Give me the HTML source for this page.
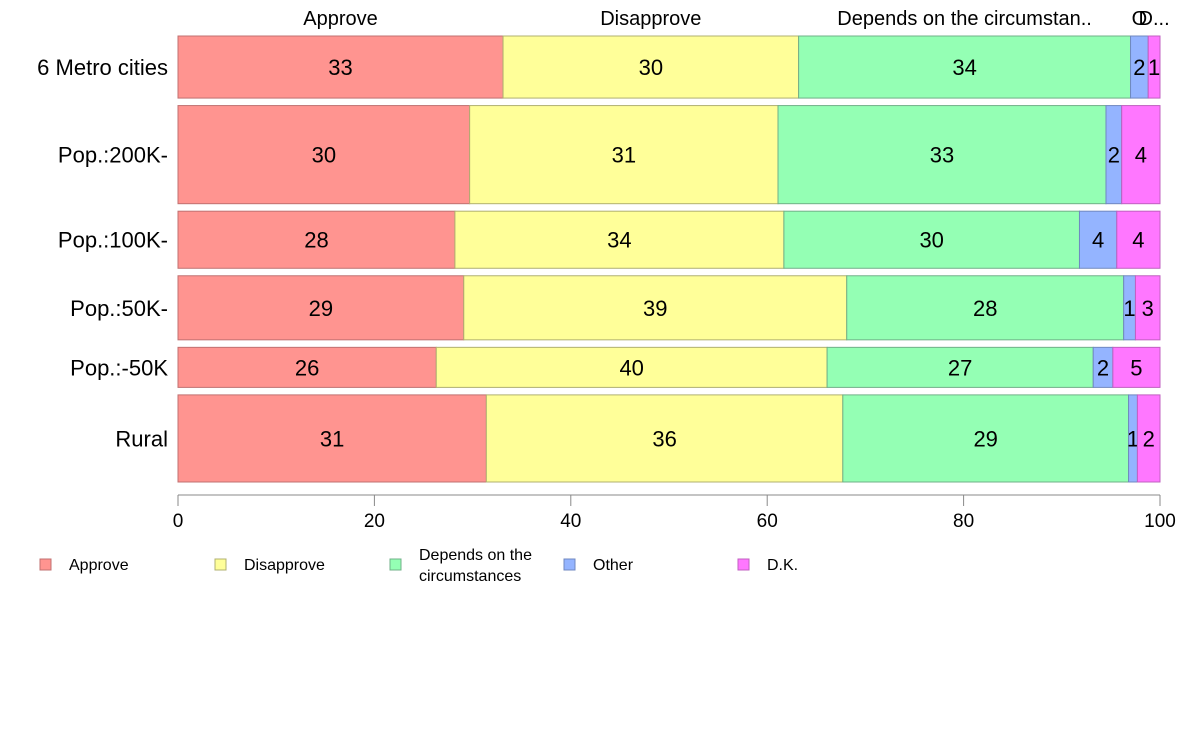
<!DOCTYPE html>
<html><head><meta charset="utf-8"><style>
body{margin:0;background:#fff;}
svg{display:block;font-family:"Liberation Sans",Arial,sans-serif;}
</style></head><body>
<svg id="chart" width="1188" height="736" viewBox="0 0 1188 736"></svg>
<script>
const categories = ["6 Metro cities","Pop.:200K-","Pop.:100K-","Pop.:50K-","Pop.:-50K","Rural"];
const seriesNames = ["Approve","Disapprove","Depends on the circumstances","Other","D.K."];
const approve    = [33.1,29.7,28.2,29.1,26.3,31.4];
const disapprove = [30.1,31.4,33.5,39.0,39.8,36.3];
const depends    = [33.8,33.4,30.1,28.2,27.1,29.1];
const other      = [1.8,1.6,3.8,1.2,2.0,0.9];
const dk         = [1.2,3.9,4.4,2.5,4.8,2.3];
const rowWeights = [62,98,57,64,40,87];
const xTicks = [0,20,40,60,80,100];
const topLabels = ["Approve","Disapprove","Depends on the circumstan..","O","D..."];

const colors = ["#ff9490","#ffff99","#94ffb4","#94b4ff","#ff77ff"];
const borders = ["#c07070","#b0b070","#70b088","#7088c0","#c060c0"];
const series = [approve,disapprove,depends,other,dk];
const NS="http://www.w3.org/2000/svg";
const svg=document.getElementById('chart');
const X0=178,X1=1160,Y0=36,Y1=482,GAP=7.5;
const xs=v=>X0+(X1-X0)*v/100;
function el(tag,attrs,parent){const e=document.createElementNS(NS,tag);for(const k in attrs)e.setAttribute(k,attrs[k]);(parent||svg).appendChild(e);return e;}
const totalW=rowWeights.reduce((a,b)=>a+b,0);
const avail=(Y1-Y0)-GAP*(categories.length-1);
let y=Y0;
categories.forEach((cat,i)=>{
  const h=avail*rowWeights[i]/totalW;
  const g=el('g',{});
  
  
  let cum=0;
  series.forEach((s,j)=>{
    const x0=xs(cum),x1=xs(cum+s[i]);
    const r=el('rect',{x:x0,y:y,width:x1-x0,height:h,fill:colors[j],stroke:borders[j],'stroke-width':1},g);
    
    
    const t=el('text',{x:(x0+x1)/2,y:y+h/2+8,'text-anchor':'middle','font-size':22,fill:'#000'},g);
    t.textContent=Math.round(s[i]);
    
    
    if(i===0){
      const tl=el('text',{x:(x0+x1)/2,y:25,'text-anchor':'middle','font-size':20,fill:'#000'});
      tl.textContent=topLabels[j];
      
      
    }
    cum+=s[i];
  });
  const cl=el('text',{x:168,y:y+h/2+8,'text-anchor':'end','font-size':22,fill:'#000'});
  cl.textContent=cat;
  
  
  y+=h+GAP;
});
// x axis
const ax=el('line',{x1:X0,x2:X1,y1:495,y2:495,stroke:'#888','stroke-width':1});


xTicks.forEach(v=>{
  const tk=el('line',{x1:xs(v),x2:xs(v),y1:495,y2:506,stroke:'#888'});
  
  
  const t=el('text',{x:xs(v),y:527,'text-anchor':'middle','font-size':19,fill:'#000'});
  t.textContent=v;
  
  
});
// legend
const lx=[40,215,390,564,738];
seriesNames.forEach((n,j)=>{
  const g=el('g',{});
  
  
  el('rect',{x:lx[j],y:559,width:11,height:11,fill:colors[j],stroke:borders[j]},g);
  if(n==="Depends on the circumstances"){
    const t1=el('text',{x:lx[j]+29,y:560,'font-size':16},g);t1.textContent="Depends on the";
    const t2=el('text',{x:lx[j]+29,y:581,'font-size':16},g);t2.textContent="circumstances";
  } else {
    const t=el('text',{x:lx[j]+29,y:570,'font-size':16},g);t.textContent=n;
  }
});
</script>
</body></html>
